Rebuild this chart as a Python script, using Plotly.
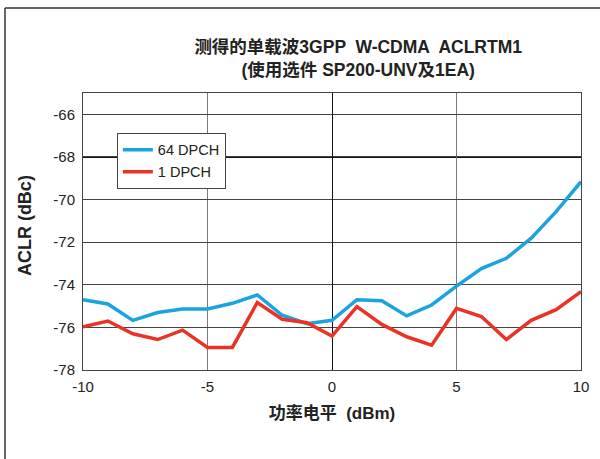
import plotly.graph_objects as go

power_dbm = [-10, -9, -8, -7, -6, -5, -4, -3, -2, -1, 0, 1, 2, 3, 4, 5, 6, 7, 8, 9, 10]
aclr_64dpch = [-74.70, -74.90, -75.67, -75.30, -75.14, -75.14, -74.87, -74.48, -75.43, -75.83, -75.67,
               -74.70, -74.75, -75.46, -74.95, -74.06, -73.24, -72.76, -71.81, -70.57, -69.16]
aclr_1dpch = [-75.97, -75.70, -76.30, -76.57, -76.13, -76.94, -76.94, -74.83, -75.62, -75.78, -76.41,
              -75.02, -75.86, -76.44, -76.84, -75.11, -75.49, -76.57, -75.67, -75.17, -74.32]
y_ticks = [-66, -68, -70, -72, -74, -76, -78]
y_tick_labels = ["-66", "-68", "-70", "-72", "-74", "-76", "-78"]
x_ticks = [-10, -5, 0, 5, 10]
x_tick_labels = ["-10", "-5", "0", "5", "10"]

FONT = "Liberation Sans, Arial, Noto Sans CJK SC, sans-serif"
TXT = "#222"

fig = go.Figure()
fig.add_trace(go.Scatter(x=power_dbm, y=aclr_64dpch, mode="lines", name="64 DPCH",
                         line=dict(color="#1ba3df", width=3.5)))
fig.add_trace(go.Scatter(x=power_dbm, y=aclr_1dpch, mode="lines", name="1 DPCH",
                         line=dict(color="#ea3327", width=3.5)))

fig.update_layout(
    width=600, height=459,
    margin=dict(l=83, r=19, t=93, b=89),
    paper_bgcolor="white", plot_bgcolor="white",
    font=dict(family=FONT, size=15, color=TXT),
    title=dict(text="<b>测得的单载波3GPP  W-CDMA  ACLRTM1</b><br><b>(使用选件 SP200-UNV及1EA)</b>",
               x=0.597, xanchor="center", y=0.885, yanchor="middle",
               font=dict(family=FONT, size=17.5, color=TXT)),
    showlegend=True,
    legend=dict(x=0.068, y=0.856, xanchor="left", yanchor="top",
                bgcolor="white", bordercolor="#444", borderwidth=1,
                font=dict(family=FONT, size=14.5, color=TXT),
                tracegroupgap=0, itemwidth=30),
    xaxis=dict(range=[-10, 10], tickvals=x_ticks, ticktext=x_tick_labels,
               showgrid=True, gridcolor="#7a7a7a", gridwidth=1,
               zeroline=True, zerolinecolor="#111", zerolinewidth=1,
               showline=True, linecolor="#444", linewidth=1, mirror=True,
               ticks="", ticklabelstandoff=3, automargin=False,
               tickfont=dict(family=FONT, size=15, color=TXT),
               title=dict(text="<b>功率电平  (dBm)</b>", font=dict(family=FONT, size=17, color=TXT),
                          standoff=13)),
    yaxis=dict(range=[-78, -65], tickvals=y_ticks, ticktext=y_tick_labels,
               showgrid=True, gridcolor="#444", gridwidth=1,
               zeroline=False, showline=True, linecolor="#444", linewidth=1, mirror=True,
               ticks="", ticklabelstandoff=4, automargin=False,
               tickfont=dict(family=FONT, size=15, color=TXT)),
    annotations=[dict(text="<b>ACLR (dBc)</b>", xref="paper", yref="paper",
                      x=-0.1165, y=0.523, xanchor="center", yanchor="middle",
                      textangle=-90, showarrow=False,
                      font=dict(family=FONT, size=18, color=TXT))],
)

# thicker highlighted grid line at -68
fig.add_hline(y=-68, line=dict(color="#111", width=2), layer="below")

# outer frame (left and top border of the figure box)
fig.add_shape(type="line", xref="paper", yref="paper", x0=-0.1566, x1=-0.1566, y0=-0.5, y1=1.307,
              line=dict(color="#333", width=1.5))
fig.add_shape(type="line", xref="paper", yref="paper", x0=-0.1566, x1=1.2, y0=1.307, y1=1.307,
              line=dict(color="#333", width=1.5))

fig.write_html("out.html", config={"displayModeBar": False},
               post_script="document.body.style.margin='0';")
